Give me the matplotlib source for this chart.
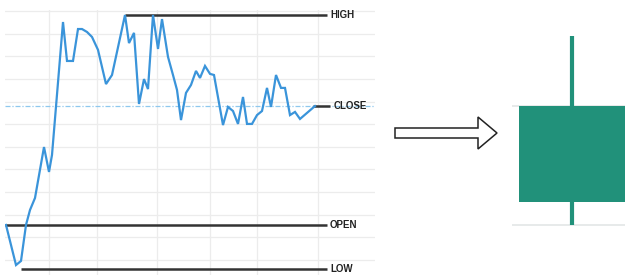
import matplotlib
matplotlib.use("Agg")
import matplotlib.pyplot as plt
from matplotlib.patches import Polygon, Rectangle

# intraday price path (minutes since open, price)
minutes = [1, 11, 16, 21, 25, 30, 39, 44, 47, 58,
           62, 68, 73, 77, 82, 87, 93, 101, 107, 120,
           124, 129, 134, 139, 143, 148, 153, 157, 163, 168,
           172, 176, 181, 186, 191, 195, 200, 205, 209, 218,
           223, 228, 233, 238, 242, 247, 252, 257, 262, 266,
           271, 276, 280, 285, 290, 295, 310]
prices = [101.55, 99.78, 99.96, 101.55, 102.21, 102.74, 104.99, 103.89, 104.64, 110.51,
          108.79, 108.79, 110.20, 110.20, 110.07, 109.85, 109.28, 107.77, 108.17, 110.82,
          109.58, 110.03, 106.89, 107.99, 107.55, 110.82, 109.32, 110.64, 108.97, 108.17,
          107.51, 106.18, 107.38, 107.73, 108.35, 108.04, 108.57, 108.22, 108.17, 105.96,
          106.76, 106.58, 106.01, 107.20, 106.01, 106.01, 106.40, 106.58, 107.60, 106.76,
          108.17, 107.60, 107.60, 106.40, 106.54, 106.23, 106.80]

# OHLC reference levels
level_names = ["HIGH", "CLOSE", "OPEN", "LOW"]
level_values = [110.82, 106.80, 101.55, 99.60]
level_starts = [120, 308, 0, 16]

# candle on the right
candle_open = 102.56
candle_close = 106.80
candle_high = 109.89
candle_low = 101.55

time_grid = [44, 92, 152, 205, 252, 313]
price_grid = list(range(100, 112))

W, H = 625, 275
fig = plt.figure(figsize=(W / 100, H / 100), dpi=100)

y_lo, y_hi = 99.34, 111.04
top = 10 / H
ax = fig.add_axes([5 / W, 0, 370 / W, 1 - top])
ax.set_xlim(0, 370)
ax.set_ylim(y_lo, y_hi)
for s in ax.spines.values():
    s.set_visible(False)
ax.set_xticks([])
ax.set_yticks([])

grid_c = "#ececec"
for t in time_grid:
    ax.axvline(t, color=grid_c, lw=0.9, zorder=0)
for p in price_grid:
    ax.axhline(p, color=grid_c, lw=0.9, zorder=0)

# dashed close marker across the panel
ax.axhline(level_values[1], color="#8ec8ee", lw=0.9, ls=(0, (4, 1.5, 1, 1.5)), zorder=1)

ax.plot(minutes, prices, color="#3a94da", lw=1.6, zorder=3, solid_joinstyle="miter")

line_end = 322
for name, val, start in zip(level_names, level_values, level_starts):
    end = 325 if name == "CLOSE" else line_end
    ax.plot([start, end], [val, val], color="#333333", lw=1.8, zorder=2,
            solid_capstyle="butt")
    tx = 329 if name == "CLOSE" else 325
    ax.text(tx, val, name, fontsize=7, fontweight="bold", color="#222222",
            family="Liberation Sans", va="center", ha="left")

# candle panel
cx = fig.add_axes([512 / W, 0, 120 / W, 1 - top])
cx.set_xlim(-1, 1)
cx.set_ylim(y_lo, y_hi)
cx.axis("off")
teal = "#21917a"
for p in [candle_close, candle_low]:
    cx.axhline(p, color="#e3e6e6", lw=1.2, zorder=0)
cx.plot([0, 0], [candle_low, candle_high], color=teal, lw=3, zorder=1,
        solid_capstyle="butt")
cx.add_patch(Rectangle((-0.883, candle_open), 1.767, candle_close - candle_open,
                       facecolor=teal, edgecolor="none", zorder=2))

# arrow between the two panels
ov = fig.add_axes([0, 0, 1, 1], facecolor="none")
ov.set_xlim(0, W)
ov.set_ylim(H, 0)
ov.axis("off")
arrow = [(395, 128), (478, 128), (478, 117), (497, 133), (478, 149), (478, 138), (395, 138)]
ov.add_patch(Polygon(arrow, closed=True, facecolor="white", edgecolor="#222222", lw=1.1))

fig.savefig("out.png", dpi=100)
